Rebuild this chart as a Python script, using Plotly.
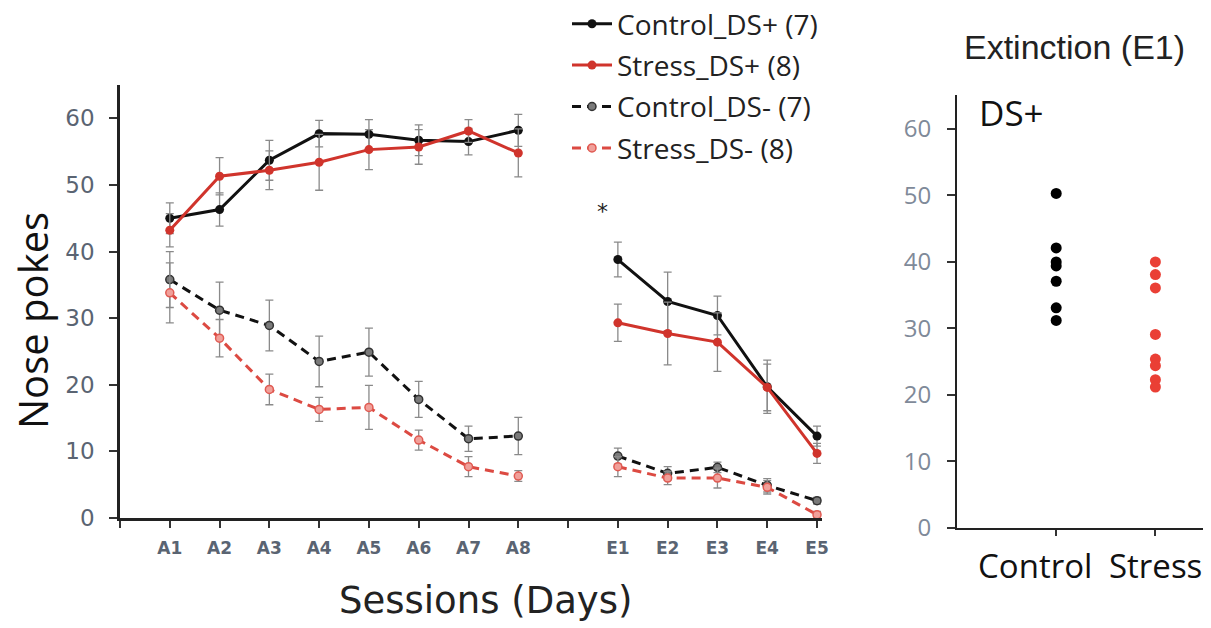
import plotly.graph_objects as go

# ---------------- data ----------------
acq_labels = ["A1", "A2", "A3", "A4", "A5", "A6", "A7", "A8"]
ext_labels = ["E1", "E2", "E3", "E4", "E5"]
acq_pos = [1, 2, 3, 4, 5, 6, 7, 8]
ext_pos = [10, 11, 12, 13, 14]

control_dsp_acq = [45.0, 46.3, 53.7, 57.7, 57.6, 56.7, 56.5, 58.2]
control_dsp_acq_err = [2.3, 2.5, 3.0, 2.0, 2.2, 2.3, 2.0, 2.4]
stress_dsp_acq = [43.2, 51.3, 52.2, 53.4, 55.3, 55.7, 58.1, 54.8]
stress_dsp_acq_err = [2.5, 2.8, 2.9, 4.2, 3.0, 2.6, 1.7, 3.6]
control_dsm_acq = [35.8, 31.2, 28.9, 23.5, 24.9, 17.8, 11.9, 12.3]
control_dsm_acq_err = [4.2, 4.2, 3.8, 3.8, 3.6, 2.7, 1.9, 2.8]
stress_dsm_acq = [33.8, 27.0, 19.3, 16.3, 16.6, 11.7, 7.7, 6.3]
stress_dsm_acq_err = [4.5, 2.8, 2.3, 1.8, 3.3, 1.5, 1.5, 0.8]

control_dsp_ext = [38.8, 32.5, 30.4, 19.7, 12.3]
control_dsp_ext_err = [2.6, 4.4, 2.9, 4.0, 1.5]
stress_dsp_ext = [29.3, 27.7, 26.4, 19.6, 9.7]
stress_dsp_ext_err = [2.8, 4.7, 4.4, 3.5, 1.5]
control_dsm_ext = [9.3, 6.7, 7.6, 4.9, 2.6]
control_dsm_ext_err = [1.2, 1.0, 0.8, 1.0, 0.5]
stress_dsm_ext = [7.7, 6.0, 6.0, 4.6, 0.5]
stress_dsm_ext_err = [1.5, 1.0, 1.5, 1.0, 0.5]

e1_groups = ["Control", "Stress"]
e1_control = [50.3, 42.1, 40.0, 39.4, 37.1, 33.1, 31.2]
e1_stress = [40.0, 38.1, 36.1, 29.1, 25.4, 24.4, 22.3, 21.2]

y_ticks = [0, 10, 20, 30, 40, 50, 60]

# ---------------- styling ----------------
BLACK = "#111111"
RED = "#d0342c"
RED_PT = "#ea3f35"
ERR = "#8a8a8a"
TICKCOL = "#5a6472"

# page has an 8px body margin; figure is sized to fit the window
OFF = 8
W, H = 1211 - OFF, 628 - OFF


def px(x):
    return (x - OFF) / W


def py(y):
    return 1 - (y - OFF) / H


fig = go.Figure()

series = [
    ("Control_DS+ (7)", control_dsp_acq, control_dsp_acq_err, control_dsp_ext, control_dsp_ext_err,
     BLACK, "solid", dict(color=BLACK, size=9)),
    ("Stress_DS+ (8)", stress_dsp_acq, stress_dsp_acq_err, stress_dsp_ext, stress_dsp_ext_err,
     RED, "solid", dict(color=RED, size=9)),
    ("Control_DS- (7)", control_dsm_acq, control_dsm_acq_err, control_dsm_ext, control_dsm_ext_err,
     BLACK, "9px,6px", dict(color="#7a7a7a", size=8, line=dict(color="#333333", width=1.5))),
    ("Stress_DS- (8)", stress_dsm_acq, stress_dsm_acq_err, stress_dsm_ext, stress_dsm_ext_err,
     "#dc4a42", "9px,6px", dict(color="#f0a09a", size=8, line=dict(color="#e05a52", width=1.5))),
]

for name, ya, ea, ye, ee, col, dash, mk in series:
    for i, (xs, ys, es) in enumerate([(acq_pos, ya, ea), (ext_pos, ye, ee)]):
        fig.add_trace(go.Scatter(
            x=xs, y=ys, mode="lines+markers", name=name,
            legendgroup=name, showlegend=(i == 0),
            line=dict(color=col, width=3, dash=dash),
            marker=mk,
            error_y=dict(type="data", array=es, color=ERR, thickness=1.3, width=4),
            xaxis="x", yaxis="y",
        ))

# right panel
fig.add_trace(go.Scatter(
    x=[1] * len(e1_control), y=e1_control, mode="markers", showlegend=False,
    marker=dict(color="#000000", size=11), xaxis="x2", yaxis="y2"))
fig.add_trace(go.Scatter(
    x=[2] * len(e1_stress), y=e1_stress, mode="markers", showlegend=False,
    marker=dict(color=RED_PT, size=11), xaxis="x2", yaxis="y2"))

tickvals_x = list(range(0, 15))
ticktext_x = [""] + acq_labels + [""] + ext_labels

fig.update_layout(
    width=W, height=H,
    margin=dict(l=0, r=0, t=0, b=0, autoexpand=False),
    paper_bgcolor="white", plot_bgcolor="white",
    font=dict(family="Open Sans", color="#222222"),
    xaxis=dict(
        domain=[px(120), px(822)], range=[0, 14.1],
        tickvals=tickvals_x, ticktext=ticktext_x,
        showline=True, linecolor="#222222", linewidth=2.5,
        ticks="outside", ticklen=7, tickwidth=2, tickcolor="#333333",
        showgrid=False, zeroline=False, ticklabelstandoff=6, automargin=False,
        tickfont=dict(family="DejaVu Sans", size=17, color=TICKCOL, weight="bold"),
    ),
    yaxis=dict(
        domain=[py(518), py(85)], range=[0, 65],
        tickvals=y_ticks,
        showline=True, linecolor="#222222", linewidth=2.5,
        ticks="outside", ticklen=8, tickwidth=2, tickcolor="#333333",
        showgrid=False, zeroline=False, ticklabelstandoff=10, automargin=False,
        tickfont=dict(family="DejaVu Sans", size=23, color=TICKCOL),
    ),
    xaxis2=dict(
        domain=[px(957), px(1205)], range=[0, 2.5],
        tickvals=[1, 2], ticktext=["", ""],
        showline=True, linecolor="#222222", linewidth=2,
        ticks="outside", ticklen=6, tickwidth=2, tickcolor="#333333",
        showgrid=False, zeroline=False, anchor="y2", automargin=False,
    ),
    yaxis2=dict(
        domain=[py(528), py(95)], range=[0, 65.1],
        tickvals=y_ticks, anchor="x2",
        showline=True, linecolor="#222222", linewidth=2,
        ticks="outside", ticklen=8, tickwidth=2, tickcolor="#333333",
        showgrid=False, zeroline=False, ticklabelstandoff=11, automargin=False,
        tickfont=dict(family="Open Sans", size=24, color="#7f8a99"),
    ),
    legend=dict(
        x=559 / W, y=1 + 9 / H, xanchor="left", yanchor="top",
        font=dict(family="Open Sans", size=28, color="#222222"),
        bgcolor="rgba(0,0,0,0)", tracegroupgap=2, itemwidth=40,
    ),
    annotations=[
        dict(x=9.7, y=46, xref="x", yref="y", text="*", showarrow=False,
             font=dict(family="DejaVu Sans", size=22, color="#222222")),
        dict(x=0.2, y=62.5, xref="x2", yref="y2", text="DS+", showarrow=False,
             xanchor="left", yanchor="middle",
             font=dict(family="Open Sans", size=35, color="#111111")),
        dict(x=px(1074), y=py(47), xref="paper", yref="paper", text="Extinction (E1)",
             showarrow=False, xanchor="center", yanchor="middle",
             font=dict(family="Liberation Sans", size=34, color="#222222")),
        dict(x=px(485), y=py(600), xref="paper", yref="paper", text="Sessions (Days)",
             showarrow=False, xanchor="center", yanchor="middle",
             font=dict(family="DejaVu Sans", size=37, color="#222222")),
        dict(x=px(32), y=py(321), xref="paper", yref="paper", text="Nose pokes",
             showarrow=False, xanchor="center", yanchor="middle", textangle=-90,
             borderpad=0,
             font=dict(family="Open Sans", size=40, color="#111111")),
        dict(x=px(1035), y=py(565), xref="paper", yref="paper", text=e1_groups[0],
             showarrow=False, xanchor="center", yanchor="middle",
             font=dict(family="Open Sans", size=33, color="#111111")),
        dict(x=px(1155), y=py(565), xref="paper", yref="paper", text=e1_groups[1],
             showarrow=False, xanchor="center", yanchor="middle",
             font=dict(family="Open Sans", size=33, color="#111111")),
    ],
)

fig.write_html("out.html")
